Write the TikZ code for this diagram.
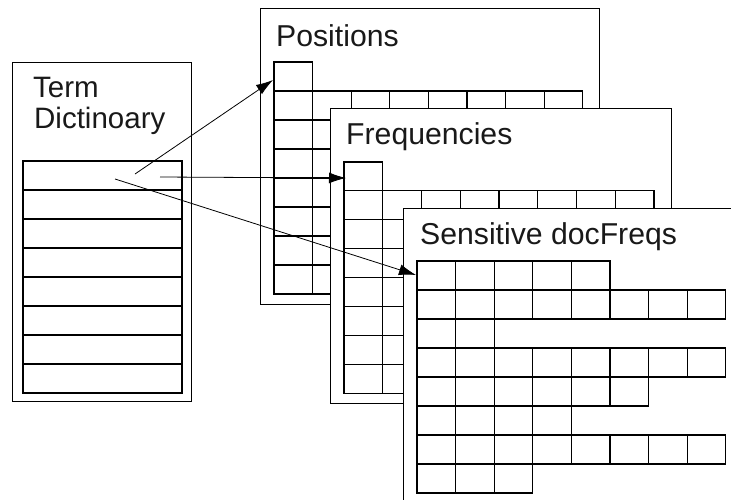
\documentclass[tikz,border=0pt]{standalone}
\usepackage{fontspec}
\setmainfont{Liberation Sans}
\usetikzlibrary{arrows.meta}
\newcommand\celltable[5]{%
  \foreach \n [count=\r from 0] in {#5} {
    \foreach \c in {1,...,\n} {
      \draw[cellline] ({#1+(\c-1)*#3},{#2+\r*#4}) rectangle ++(#3,#4);
    }
  }%
}
\begin{document}
\begin{tikzpicture}[x=1pt,y=-1pt,
  panel/.style={draw=black,line width=1pt,fill=white},
  cellline/.style={draw=black,line width=1.1pt},
  title/.style={anchor=base west,inner sep=0pt,font=\fontsize{30.2}{31}\selectfont,text=black!90},
  link/.style={draw=black,line width=0.8pt,-{Latex[length=17pt,width=11pt]}}]
\useasboundingbox (0,0) rectangle (731,499);
\clip (0,0) rectangle (731,499);
% Term dictionary
\draw[panel] (12,62) rectangle (191,401);
\foreach \k in {0,...,7} { \draw[cellline] (23,{161+\k*29}) rectangle (182,{161+(\k+1)*29}); }
\node[title,font=\fontsize{29.5}{31}\selectfont] (term) at (33,97) {Term};
\node[title,font=\fontsize{29.5}{31}\selectfont] (dict) at (34,128) {Dictinoary};
% Positions
\draw[panel] (260,8) rectangle (599,304);
\node[title] (pos) at (276,46) {Positions};
\celltable{274}{62}{38.6}{29}{1,8,2,8,6,4,8,3}
% Frequencies
\draw[panel] (330,108) rectangle (671,403);
\node[title] (freq) at (346,144) {Frequencies};
\celltable{344}{162}{38.75}{28.9}{1,8,2,8,6,4,8,3}
% Sensitive docFreqs
\draw[panel] (403,208) rectangle (760,540);
\node[title] (sens) at (420,244) {Sensitive docFreqs};
\celltable{417}{261}{38.6}{29}{5,8,2,8,6,4,8,3}
% connectors
\coordinate (s1) at (135,174);
\coordinate (s2) at (160,177);
\coordinate (s3) at (115,179);
\coordinate (t1) at (273,80);
\coordinate (t2) at (346,178);
\coordinate (t3) at (416,275);
\draw[link] (s1) -- (t1);
\draw[link] (s2) -- (t2);
\draw[link] (s3) -- (t3);
\end{tikzpicture}
\end{document}
